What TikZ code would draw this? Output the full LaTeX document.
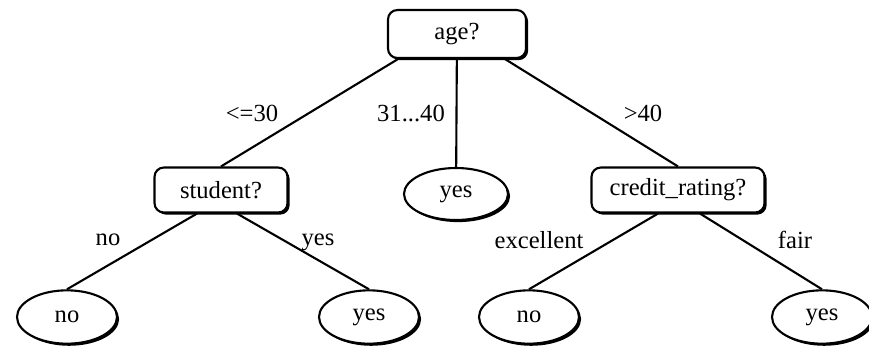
\documentclass[tikz,border=0pt]{standalone}
\usepackage{fontspec}
\setmainfont{Liberation Serif}
\usetikzlibrary{shapes.geometric,shadows}

\begin{document}
\begin{tikzpicture}[font=\fontsize{21}{25}\selectfont,
    tnode/.style={draw,line width=1.8pt,rounded corners=8pt,fill=white,minimum height=1.35cm,
        drop shadow={shadow xshift=1.8pt,shadow yshift=-1.8pt,fill=black,opacity=1}},
    lnode/.style={draw,ellipse,line width=1.8pt,fill=white,minimum width=3cm,minimum height=1.6cm,inner sep=1pt,
        drop shadow={shadow xshift=1.8pt,shadow yshift=-1.8pt,fill=black,opacity=1}},
    edge/.style={line width=1.8pt}]
    \useasboundingbox (0,0) rectangle (26.07,-10.65);

    \node[tnode,minimum width=4.14cm,minimum height=1.44cm] (age) at (13.71,-1.02) {age?};
    \node[tnode,minimum width=3.99cm] (student) at (6.63,-5.70) {student?};
    \node[lnode,minimum width=3.12cm,minimum height=1.56cm] (mid) at (13.68,-5.82) {yes};
    \node[tnode,minimum width=5.19cm] (credit) at (20.34,-5.70) {credit\_rating?};

    \node[lnode] (sno) at (2.01,-9.51) {no};
    \node[lnode] (syes) at (11.07,-9.51) {yes};
    \node[lnode] (cno) at (15.87,-9.51) {no};
    \node[lnode] (cyes) at (24.66,-9.51) {yes};

    \draw[edge] ([xshift=-1.77cm]age.south) -- (student.north) ;
    \draw[edge] (age) -- (mid) ;
    \draw[edge] ([xshift=1.44cm]age.south) -- (credit.north) ;

    \draw[edge] ([xshift=-0.72cm]student.south) -- (sno.north) ;
    \draw[edge] ([xshift=0.48cm]student.south) -- (syes.north) ;

    \draw[edge] ([xshift=-0.6cm]credit.south) -- (cno.north) ;
    \draw[edge] ([xshift=0.66cm]credit.south) -- (cyes.north) ;

    \node (le30) at (7.56,-3.39) {<=30};
    \node (mid40) at (12.33,-3.39) {31...40};
    \node (gt40) at (19.29,-3.39) {>40};
    \node (lno) at (3.24,-7.20) {no};
    \node (lyes) at (9.54,-7.26) {yes};
    \node (exc) at (16.17,-7.20) {excellent};
    \node (fair) at (23.85,-7.20) {fair};
\end{tikzpicture}
\end{document}
